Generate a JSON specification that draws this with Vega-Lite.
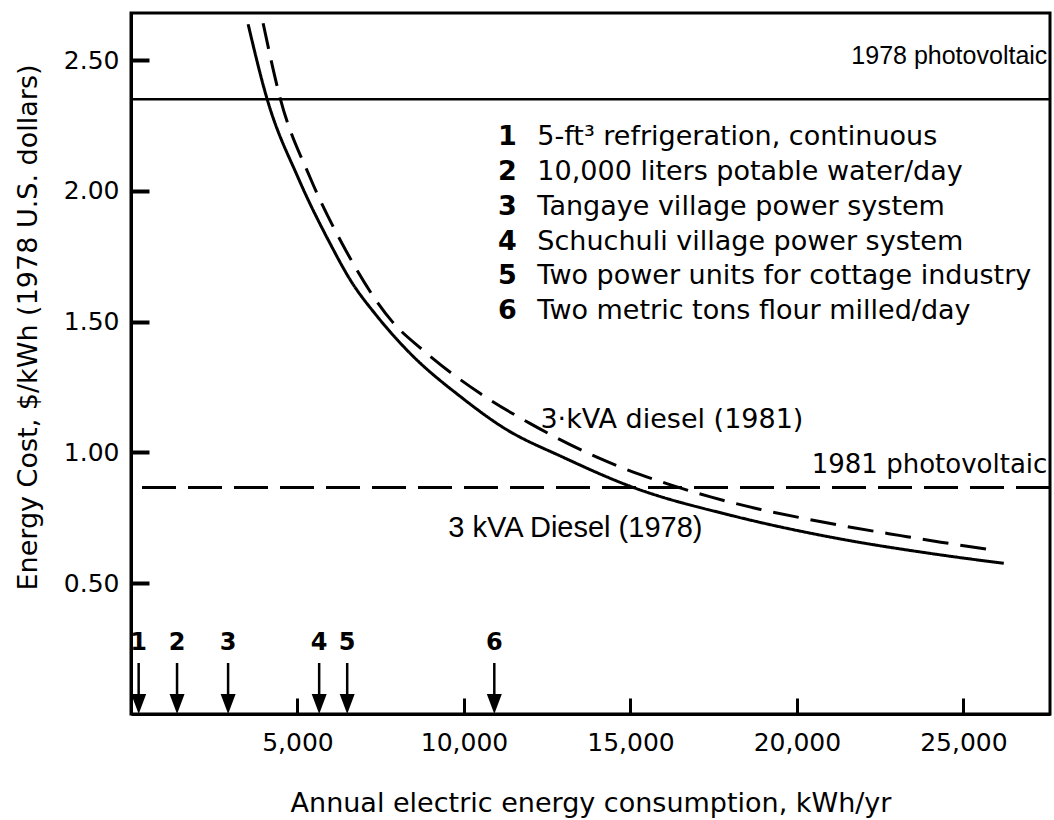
{
  "$schema": "https://vega.github.io/schema/vega-lite/v6.json",
  "width": 919,
  "height": 701,
  "autosize": "none",
  "padding": {"left": 131, "top": 13, "right": 4, "bottom": 106},
  "background": "white",
  "config": {
    "view": {"stroke": "black", "strokeWidth": 3},
    "axis": {
      "domainColor": "black", "domainWidth": 3, "tickColor": "black",
      "grid": false, "labelColor": "black", "titleColor": "black",
      "labelFont": "DejaVu Sans", "titleFont": "DejaVu Sans",
      "labelFontSize": 25, "titleFontSize": 27, "titleFontWeight": "normal"
    }
  },
  "datasets": {
    "curves": [
      {"series": "3 kVA Diesel (1978)", "kwh": 3517, "cost": 2.637},
      {"series": "3 kVA Diesel (1978)", "kwh": 4088, "cost": 2.351},
      {"series": "3 kVA Diesel (1978)", "kwh": 5020, "cost": 2.05},
      {"series": "3 kVA Diesel (1978)", "kwh": 5982, "cost": 1.798},
      {"series": "3 kVA Diesel (1978)", "kwh": 6583, "cost": 1.66},
      {"series": "3 kVA Diesel (1978)", "kwh": 7395, "cost": 1.52},
      {"series": "3 kVA Diesel (1978)", "kwh": 8297, "cost": 1.39},
      {"series": "3 kVA Diesel (1978)", "kwh": 9980, "cost": 1.205},
      {"series": "3 kVA Diesel (1978)", "kwh": 11182, "cost": 1.095},
      {"series": "3 kVA Diesel (1978)", "kwh": 12986, "cost": 0.981},
      {"series": "3 kVA Diesel (1978)", "kwh": 15090, "cost": 0.866},
      {"series": "3 kVA Diesel (1978)", "kwh": 18096, "cost": 0.757},
      {"series": "3 kVA Diesel (1978)", "kwh": 21102, "cost": 0.674},
      {"series": "3 kVA Diesel (1978)", "kwh": 24108, "cost": 0.612},
      {"series": "3 kVA Diesel (1978)", "kwh": 26212, "cost": 0.576},
      {"series": "3-kVA diesel (1981)", "kwh": 3968, "cost": 2.641},
      {"series": "3-kVA diesel (1981)", "kwh": 4479, "cost": 2.355},
      {"series": "3-kVA diesel (1981)", "kwh": 5381, "cost": 2.05},
      {"series": "3-kVA diesel (1981)", "kwh": 6343, "cost": 1.798},
      {"series": "3-kVA diesel (1981)", "kwh": 7846, "cost": 1.5},
      {"series": "3-kVA diesel (1981)", "kwh": 8778, "cost": 1.39},
      {"series": "3-kVA diesel (1981)", "kwh": 10491, "cost": 1.225},
      {"series": "3-kVA diesel (1981)", "kwh": 11994, "cost": 1.11},
      {"series": "3-kVA diesel (1981)", "kwh": 14008, "cost": 0.981},
      {"series": "3-kVA diesel (1981)", "kwh": 15300, "cost": 0.915},
      {"series": "3-kVA diesel (1981)", "kwh": 16112, "cost": 0.88},
      {"series": "3-kVA diesel (1981)", "kwh": 17405, "cost": 0.83},
      {"series": "3-kVA diesel (1981)", "kwh": 18908, "cost": 0.782},
      {"series": "3-kVA diesel (1981)", "kwh": 20321, "cost": 0.745},
      {"series": "3-kVA diesel (1981)", "kwh": 21703, "cost": 0.712},
      {"series": "3-kVA diesel (1981)", "kwh": 23116, "cost": 0.682},
      {"series": "3-kVA diesel (1981)", "kwh": 24319, "cost": 0.657},
      {"series": "3-kVA diesel (1981)", "kwh": 26032, "cost": 0.624}
    ],
    "pv1978": [{"label": "1978 photovoltaic", "cost": 2.35, "kwh": 27520, "ty": 2.485}],
    "pv1981": [{"label": "1981 photovoltaic", "cost": 0.866, "kwh": 27520, "ty": 0.92}],
    "markers": [
      {"n": "1", "kwh": 230},
      {"n": "2", "kwh": 1383},
      {"n": "3", "kwh": 2916},
      {"n": "4", "kwh": 5651},
      {"n": "5", "kwh": 6493},
      {"n": "6", "kwh": 10911}
    ],
    "legend": [
      {"n": "1", "text": "5-ft³  refrigeration, continuous", "row": 2.206},
      {"n": "2", "text": "10,000 liters potable water/day", "row": 2.073},
      {"n": "3", "text": "Tangaye village power system", "row": 1.939},
      {"n": "4", "text": "Schuchuli village power system", "row": 1.805},
      {"n": "5", "text": "Two power units for cottage industry", "row": 1.676},
      {"n": "6", "text": "Two metric tons flour milled/day", "row": 1.542}
    ]
  },
  "resolve": {"axis": {"x": "independent", "y": "independent"}},
  "layer": [
    {
      "layer": [
        {
          "data": {"name": "pv1978"},
          "mark": {"type": "rule", "color": "black", "strokeWidth": 2.5},
          "encoding": {"y": {"field": "cost", "type": "quantitative", "scale": {"domain": [0, 2.68], "nice": false, "zero": false}}}
        },
        {
          "data": {"name": "pv1981"},
          "mark": {"type": "rule", "color": "black", "strokeWidth": 3, "strokeDash": [34, 12]},
          "encoding": {"y": {"field": "cost", "type": "quantitative"}}
        },
        {
          "data": {"name": "curves"},
          "mark": {"type": "line", "color": "black", "strokeWidth": 3, "interpolate": "monotone"},
          "encoding": {
            "x": {
              "field": "kwh", "type": "quantitative",
              "scale": {"domain": [0, 27600], "nice": false, "zero": false},
              "axis": {
                "values": [5000, 10000, 15000, 20000, 25000], "format": ",.0f",
                "ticks": false, "tickSize": 0, "labelPadding": 16,
                "title": "Annual electric energy consumption, kWh/yr",
                "titleY": 89, "titleBaseline": "middle"
              }
            },
            "y": {
              "field": "cost", "type": "quantitative",
              "scale": {"domain": [0, 2.68], "nice": false, "zero": false},
              "axis": {
                "values": [0.5, 1, 1.5, 2, 2.5], "format": ".2f",
                "ticks": false, "tickSize": 0, "labelPadding": 12,
                "title": "Energy Cost, $/kWh (1978 U.S. dollars)",
                "titleX": -103, "titleY": 314, "titleBaseline": "middle"
              }
            },
            "detail": {"field": "series"},
            "strokeDash": {
              "field": "series", "type": "nominal",
              "scale": {"domain": ["3 kVA Diesel (1978)", "3-kVA diesel (1981)"], "range": [[1, 0], [26, 12]]},
              "legend": null
            }
          }
        },
        {
          "data": {"name": "pv1978"},
          "mark": {"type": "text", "align": "right", "baseline": "alphabetic", "font": "Liberation Sans", "fontSize": 25, "color": "black"},
          "encoding": {
            "x": {"field": "kwh", "type": "quantitative"},
            "y": {"field": "ty", "type": "quantitative"},
            "text": {"field": "label"}
          }
        },
        {
          "data": {"name": "pv1981"},
          "mark": {"type": "text", "align": "right", "baseline": "alphabetic", "font": "DejaVu Sans", "fontSize": 26, "color": "black"},
          "encoding": {
            "x": {"field": "kwh", "type": "quantitative"},
            "y": {"field": "ty", "type": "quantitative"},
            "text": {"field": "label"}
          }
        },
        {
          "data": {"values": [{"label": "3·kVA diesel (1981)", "kwh": 12295, "cost": 1.095}]},
          "mark": {"type": "text", "align": "left", "baseline": "alphabetic", "font": "DejaVu Sans", "fontSize": 27, "color": "black"},
          "encoding": {
            "x": {"field": "kwh", "type": "quantitative"},
            "y": {"field": "cost", "type": "quantitative"},
            "text": {"field": "label"}
          }
        },
        {
          "data": {"values": [{"label": "3 kVA Diesel (1978)", "kwh": 9529, "cost": 0.676}]},
          "mark": {"type": "text", "align": "left", "baseline": "alphabetic", "font": "Liberation Sans", "fontSize": 29, "color": "black"},
          "encoding": {
            "x": {"field": "kwh", "type": "quantitative"},
            "y": {"field": "cost", "type": "quantitative"},
            "text": {"field": "label"}
          }
        },
        {
          "data": {"name": "legend"},
          "mark": {"type": "text", "align": "center", "baseline": "middle", "font": "DejaVu Sans", "fontWeight": "bold", "fontSize": 27, "color": "black"},
          "encoding": {
            "x": {"datum": 11303, "type": "quantitative"},
            "y": {"field": "row", "type": "quantitative"},
            "text": {"field": "n"}
          }
        },
        {
          "data": {"name": "legend"},
          "mark": {"type": "text", "align": "left", "baseline": "middle", "font": "DejaVu Sans", "fontSize": 27, "color": "black"},
          "encoding": {
            "x": {"datum": 12204, "type": "quantitative"},
            "y": {"field": "row", "type": "quantitative"},
            "text": {"field": "text"}
          }
        },
        {
          "data": {"name": "markers"},
          "mark": {"type": "rule", "color": "black", "strokeWidth": 2.5},
          "encoding": {
            "x": {"field": "kwh", "type": "quantitative"},
            "y": {"datum": 0.195, "type": "quantitative"},
            "y2": {"datum": 0.06}
          }
        },
        {
          "data": {"name": "markers"},
          "mark": {"type": "point", "shape": "M-0.375,-1L0.375,-1L0,0Z", "size": 1600, "filled": true, "color": "black", "opacity": 1, "strokeWidth": 0},
          "encoding": {
            "x": {"field": "kwh", "type": "quantitative"},
            "y": {"datum": 0, "type": "quantitative"}
          }
        },
        {
          "data": {"name": "markers"},
          "mark": {"type": "text", "align": "center", "baseline": "middle", "font": "DejaVu Sans", "fontWeight": "bold", "fontSize": 24, "color": "black"},
          "encoding": {
            "x": {"field": "kwh", "type": "quantitative"},
            "y": {"datum": 0.271, "type": "quantitative"},
            "text": {"field": "n"}
          }
        }
      ]
    },
    {
      "data": {"values": [{"kwh": 5000, "cost": 0.5}]},
      "mark": {"type": "point", "opacity": 0},
      "encoding": {
        "x": {
          "field": "kwh", "type": "quantitative",
          "axis": {
            "orient": "top", "offset": -701, "values": [5000, 10000, 15000, 20000, 25000],
            "labels": false, "domain": false, "title": null,
            "ticks": true, "tickSize": 16, "tickWidth": 3, "tickColor": "black"
          }
        },
        "y": {
          "field": "cost", "type": "quantitative",
          "axis": {
            "orient": "right", "offset": -919, "values": [0.5, 1, 1.5, 2, 2.5],
            "labels": false, "domain": false, "title": null,
            "ticks": true, "tickSize": 18, "tickWidth": 4, "tickColor": "black"
          }
        }
      }
    }
  ]
}
